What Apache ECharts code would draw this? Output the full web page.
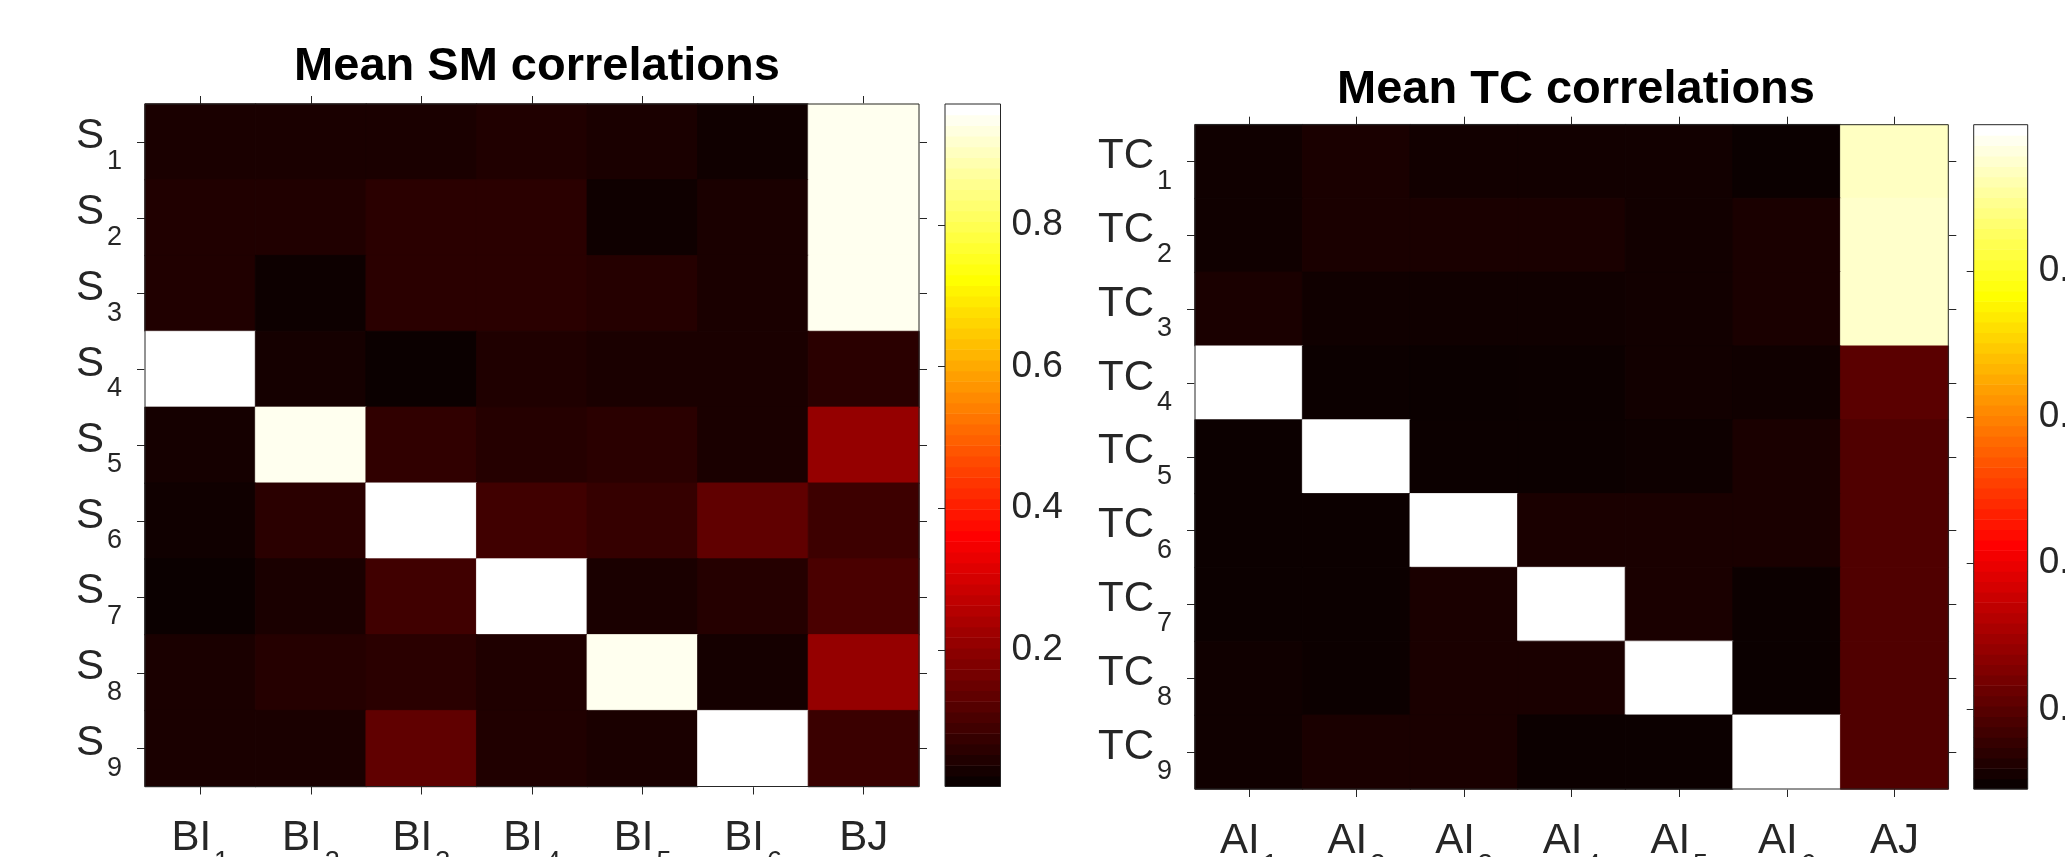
<!DOCTYPE html>
<html>
<head>
<meta charset="utf-8">
<title>Mean SM / TC correlations</title>
<script src="https://cdn.jsdelivr.net/npm/echarts@6/dist/echarts.min.js"></script>
<style>
html, body { margin: 0; padding: 0; background: #fff; }
#chart { width: 2065px; height: 857px; }
</style>
</head>
<body>
<div id="chart"></div>
<script>
// axis labels, "_" marks the subscript
var smCols = ['BI_1', 'BI_2', 'BI_3', 'BI_4', 'BI_5', 'BI_6', 'BJ'];
var smRows = ['S_1', 'S_2', 'S_3', 'S_4', 'S_5', 'S_6', 'S_7', 'S_8', 'S_9'];
var tcCols = ['AI_1', 'AI_2', 'AI_3', 'AI_4', 'AI_5', 'AI_6', 'AJ'];
var tcRows = ['TC_1', 'TC_2', 'TC_3', 'TC_4', 'TC_5', 'TC_6', 'TC_7', 'TC_8', 'TC_9'];

// mean spatial map correlations, one row per S
var smValues = [
    [0.029, 0.029, 0.029, 0.038, 0.029, 0.015, 0.956],
    [0.038, 0.038, 0.052, 0.052, 0.013, 0.029, 0.956],
    [0.038, 0.010, 0.052, 0.052, 0.045, 0.029, 0.956],
    [0.971, 0.022, 0.007, 0.036, 0.029, 0.029, 0.052],
    [0.022, 0.956, 0.061, 0.045, 0.052, 0.029, 0.206],
    [0.015, 0.052, 0.971, 0.084, 0.068, 0.130, 0.080],
    [0.007, 0.029, 0.084, 0.971, 0.029, 0.045, 0.098],
    [0.029, 0.045, 0.052, 0.036, 0.956, 0.022, 0.206],
    [0.029, 0.029, 0.130, 0.038, 0.029, 0.971, 0.075]
];

// mean time course correlations, one row per TC
var tcValues = [
    [0.098, 0.112, 0.101, 0.101, 0.101, 0.091, 0.945],
    [0.098, 0.112, 0.112, 0.112, 0.101, 0.112, 0.953],
    [0.112, 0.098, 0.098, 0.098, 0.101, 0.112, 0.953],
    [1.000, 0.093, 0.091, 0.093, 0.101, 0.098, 0.199],
    [0.093, 1.000, 0.093, 0.093, 0.095, 0.112, 0.185],
    [0.093, 0.093, 1.000, 0.112, 0.112, 0.112, 0.185],
    [0.093, 0.093, 0.112, 1.000, 0.112, 0.093, 0.185],
    [0.098, 0.093, 0.112, 0.112, 1.000, 0.091, 0.185],
    [0.098, 0.112, 0.112, 0.093, 0.093, 1.000, 0.185]
];

var smRange = [0.007, 0.971];
var tcRange = [0.091, 1.0];
var cbTicks = [0.2, 0.4, 0.6, 0.8];

var FONT = 'Liberation Sans, Arial, Helvetica, sans-serif';
var INK = '#262626';

// matlab "hot" colormap, 64 steps, as [r,g,b]
function hotMap(n) {
    var n1 = Math.floor(3 * n / 8), n2 = n1, n3 = n - n1 - n2;
    var out = [];
    for (var i = 1; i <= n; i++) {
        var r = Math.min(1, i / n1);
        var g = i <= n1 ? 0 : Math.min(1, (i - n1) / n2);
        var b = i <= n1 + n2 ? 0 : (i - n1 - n2) / n3;
        out.push([r * 255, g * 255, b * 255]);
    }
    return out;
}
var hot = hotMap(64);

function rgb(c) {
    return 'rgb(' + Math.round(c[0]) + ',' + Math.round(c[1]) + ',' + Math.round(c[2]) + ')';
}

function hotColor(v, range) {
    var t = (v - range[0]) / (range[1] - range[0]);
    t = Math.max(0, Math.min(1, t)) * (hot.length - 1);
    var k = Math.min(hot.length - 2, Math.floor(t)), f = t - k;
    var a = hot[k], b = hot[k + 1];
    return rgb([a[0] + (b[0] - a[0]) * f, a[1] + (b[1] - a[1]) * f, a[2] + (b[2] - a[2]) * f]);
}

function cells(values, range) {
    var out = [];
    values.forEach(function(row, r) {
        row.forEach(function(v, c) {
            var col = hotColor(v, range);
            // same-colour border hides the hairline seams between cells
            out.push({ value: [c, r, v], itemStyle: { color: col, borderColor: col, borderWidth: 0.8 } });
        });
    });
    return out;
}

function colorbarSteps(range) {
    var out = [];
    var step = (range[1] - range[0]) / hot.length;
    for (var i = 0; i < hot.length; i++) {
        out.push([0, range[0] + i * step, range[0] + (i + 1) * step, i]);
    }
    return out;
}

function subLabel(v) {
    var p = v.split('_');
    return p.length > 1 ? '{m|' + p[0] + '}{s|' + p[1] + '}' : '{m|' + p[0] + '}';
}

var labelRich = {
    m: { fontSize: 42, fontFamily: FONT, color: INK, padding: [7, 0, 0, 0], verticalAlign: 'top' },
    s: { fontSize: 27, fontFamily: FONT, color: INK, padding: [39, 0, 0, 3], verticalAlign: 'top' }
};

var tickStyle = { color: INK, width: 1 };

function heatAxes(g, cols, rows) {
    var tickOnly = function() {
        return { show: true, inside: true, length: 16, alignWithLabel: true, lineStyle: tickStyle };
    };
    var x = [
        { gridIndex: g, type: 'category', data: cols, position: 'bottom',
          axisLine: { show: false }, axisTick: { show: false }, splitLine: { show: false },
          axisLabel: { interval: 0, margin: 24, formatter: subLabel, rich: labelRich } },
        { gridIndex: g, type: 'category', data: cols, position: 'bottom', offset: 8,
          axisLine: { show: false }, axisLabel: { show: false }, axisTick: tickOnly() },
        { gridIndex: g, type: 'category', data: cols, position: 'top', offset: 8,
          axisLine: { show: false }, axisLabel: { show: false }, axisTick: tickOnly() }
    ];
    var y = [
        { gridIndex: g, type: 'category', data: rows, inverse: true, position: 'left',
          axisLine: { show: false }, axisTick: { show: false }, splitLine: { show: false },
          axisLabel: { interval: 0, margin: 23, formatter: subLabel, rich: labelRich } },
        { gridIndex: g, type: 'category', data: rows, inverse: true, position: 'left', offset: 8,
          axisLine: { show: false }, axisLabel: { show: false }, axisTick: tickOnly() },
        { gridIndex: g, type: 'category', data: rows, inverse: true, position: 'right', offset: 8,
          axisLine: { show: false }, axisLabel: { show: false }, axisTick: tickOnly() }
    ];
    return { x: x, y: y };
}

function barAxes(g, range) {
    return {
        x: { gridIndex: g, type: 'value', min: 0, max: 1, show: false },
        y: { gridIndex: g, type: 'value', min: range[0], max: range[1], position: 'right',
             axisLine: { show: false }, splitLine: { show: false },
             axisTick: { show: true, inside: true, length: 7, customValues: cbTicks, lineStyle: tickStyle },
             axisLabel: { customValues: cbTicks, margin: 11, fontSize: 37, fontFamily: FONT, color: INK,
                          padding: [8, 0, 0, 0],
                          formatter: function(v) { return v.toFixed(1); } } }
    };
}

function renderBar(params, api) {
    var p0 = api.coord([0, api.value(2)]);
    var p1 = api.coord([1, api.value(1)]);
    return {
        type: 'rect',
        shape: { x: p0[0], y: p0[1], width: p1[0] - p0[0], height: p1[1] - p0[1] + 0.6 },
        style: { fill: rgb(hot[api.value(3)]) }
    };
}

var smAx = heatAxes(0, smCols, smRows);
var tcAx = heatAxes(2, tcCols, tcRows);
var smBar = barAxes(1, smRange);
var tcBar = barAxes(3, tcRange);

// fixed boxes; labels are allowed to run past the canvas edge
var frame = { show: true, borderColor: INK, borderWidth: 1, backgroundColor: 'transparent',
              containLabel: false, outerBoundsMode: 'none', z: 3 };

var option = {
    animation: false,
    backgroundColor: '#fff',
    title: [
        { text: 'Mean SM correlations', left: 537, top: 44, textAlign: 'center', textVerticalAlign: 'top', padding: 0,
          textStyle: { fontSize: 47, fontWeight: 'bold', fontFamily: FONT, color: '#000', lineHeight: 47 } },
        { text: 'Mean TC correlations', left: 1576, top: 67, textAlign: 'center', textVerticalAlign: 'top', padding: 0,
          textStyle: { fontSize: 47, fontWeight: 'bold', fontFamily: FONT, color: '#000', lineHeight: 47 } }
    ],
    grid: [
        Object.assign({ left: 145, top: 104, width: 774, height: 682.5 }, frame),
        Object.assign({ left: 945, top: 104, width: 55.5, height: 682.5 }, frame),
        Object.assign({ left: 1195, top: 124.7, width: 753.3, height: 664.3 }, frame),
        Object.assign({ left: 1973.7, top: 124.7, width: 54, height: 664.3 }, frame)
    ],
    xAxis: smAx.x.concat([smBar.x]).concat(tcAx.x).concat([tcBar.x]),
    yAxis: smAx.y.concat([smBar.y]).concat(tcAx.y).concat([tcBar.y]),
    series: [
        { type: 'heatmap', xAxisIndex: 0, yAxisIndex: 0, data: cells(smValues, smRange),
          emphasis: { disabled: true } },
        { type: 'custom', xAxisIndex: 3, yAxisIndex: 3, data: colorbarSteps(smRange),
          renderItem: renderBar, silent: true },
        { type: 'heatmap', xAxisIndex: 4, yAxisIndex: 4, data: cells(tcValues, tcRange),
          emphasis: { disabled: true } },
        { type: 'custom', xAxisIndex: 7, yAxisIndex: 7, data: colorbarSteps(tcRange),
          renderItem: renderBar, silent: true }
    ]
};

var myChart = echarts.init(document.getElementById('chart'));
myChart.setOption(option);
</script>
</body>
</html>
